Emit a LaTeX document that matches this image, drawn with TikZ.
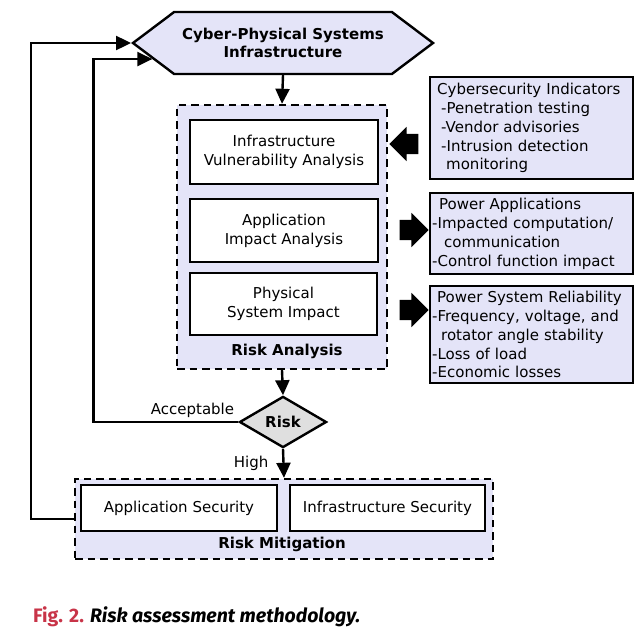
\documentclass[tikz,border=0pt]{standalone}
\usepackage{fontspec}
\setmainfont{DejaVu Sans}
\newfontfamily\capfont{Fira Sans}
\usetikzlibrary{shapes.geometric,shapes.symbols,shapes.arrows,arrows.meta,positioning}

\definecolor{lav}{RGB}{228,228,248}
\definecolor{figred}{RGB}{200,52,72}
\newcommand{\indt}[1]{\hspace*{#1pt}}

\begin{document}
\fontsize{15}{18.8}\selectfont
\begin{tikzpicture}[x=1pt, y=-1pt,
  box/.style={draw, line width=2.4pt, fill=white, align=center, inner sep=2pt},
  ind/.style={draw, line width=2.4pt, fill=lav, align=left, text width=199pt, inner xsep=2pt, inner ysep=1pt, anchor=north west},
  grp/.style={draw, line width=2.4pt, dash pattern=on 7.5pt off 5pt, fill=lav},
  flow/.style={line width=2.4pt, -{Triangle[length=15pt,width=14pt]}},
  blk/.style={single arrow, fill=black, inner xsep=0pt, inner ysep=10pt, minimum height=29pt, single arrow head extend=7pt}]
\useasboundingbox (0,0) rectangle (643,640);

\node[draw, line width=2.4pt, fill=lav, signal, signal to=west and east, signal pointer angle=74, minimum width=300pt, minimum height=62pt, font=\bfseries, align=center] (cps) at (283,43) {Cyber-Physical Systems\\Infrastructure};

\node[grp, minimum width=210pt, minimum height=264pt] (ra) at (282,237) {};
\node[box, minimum width=188pt, minimum height=64pt] (iva) at (284,152) {Infrastructure\\Vulnerability Analysis};
\node[box, minimum width=188pt, minimum height=63pt] (aia) at (284,230.5) {Application\\Impact Analysis};
\node[box, minimum width=187pt, minimum height=62pt] (psi) at (283.5,304) {Physical\\System Impact};
\node[font=\bfseries] (ralab) at (287,351) {Risk Analysis};

\node[ind, minimum height=102pt] (csi) at (429,76) {\indt{5}Cybersecurity Indicators\\\indt{9}-Penetration testing\\\indt{9}-Vendor advisories\\\indt{9}-Intrusion detection\\\indt{14}monitoring};
\node[ind, minimum height=81pt] (pwa) at (429,192) {\indt{7}Power Applications\\-Impacted computation/\\\indt{12}communication\\-Control function impact};
\node[ind, minimum height=97pt] (psr) at (429,285) {\indt{5}Power System Reliability\\-Frequency, voltage, and\\\indt{9}rotator angle stability\\-Loss of load\\-Economic losses};

\node[blk, shape border rotate=180] (ar1) at (409,144) {};
\node[blk] (ar2) at (409,230) {};
\node[blk] (ar3) at (409,310) {};

\node[draw, diamond, line width=2.4pt, fill=gray!25, minimum width=87pt, minimum height=47pt, inner sep=1pt, font=\bfseries] (risk) at (283,422) {Risk};

\node[grp, minimum width=418pt, minimum height=80pt] (mit) at (284,519) {};
\node[box, minimum width=196pt, minimum height=46pt] (aps) at (179,508) {Application Security};
\node[box, minimum width=195pt, minimum height=46pt] (ins) at (387.5,508) {Infrastructure Security};
\node[font=\bfseries] (mitlab) at (282,544) {Risk Mitigation};

\path[flow]
(cps.south) edge (ra.north)
(ra.south) edge (risk.north)
(risk.south) edge node[left=9pt] {High} (mit.north);

\draw[flow] (risk.west) node[above left, inner sep=3pt] {Acceptable} -- ++(-145,0) |- (cps.187);
\draw[flow] (mit.west) -- ++(-43,0) |- (cps.west);

\node[anchor=west, inner sep=0pt, font=\capfont\bfseries\fontsize{19.5}{23}\selectfont] (cap) at (33,617) {\textcolor{figred}{Fig. 2.} \textit{Risk assessment methodology.}};
\end{tikzpicture}
\end{document}
